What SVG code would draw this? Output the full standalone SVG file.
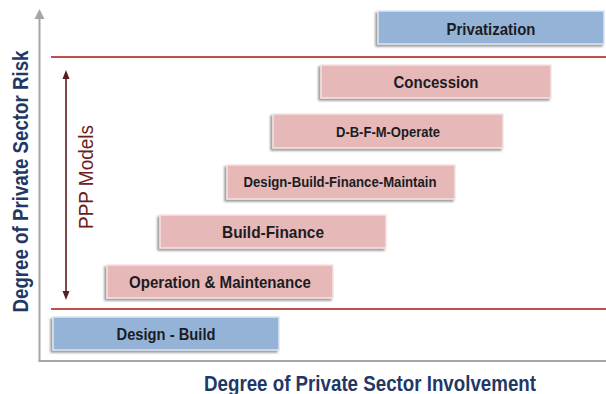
<svg xmlns="http://www.w3.org/2000/svg" width="606" height="394" viewBox="0 0 606 394">
  <style>
    .box { stroke-width: 1.5; filter: url(#sh); }
    .pink { fill: #e6b9b8; stroke: #f6e4e4; }
    .blue { fill: #95b3d7; stroke: #dbe6f2; }
    .lbl { font-family: "Liberation Sans", Arial, sans-serif; font-weight: bold; fill: #1c1c24; text-anchor: middle; }
    .axis-lbl { font-family: "Liberation Sans", Arial, sans-serif; font-weight: bold; fill: #1f3864; font-size: 21.5px; text-anchor: middle; }
    .ppp { font-family: "Liberation Sans", Arial, sans-serif; fill: #6b2020; font-size: 20px; text-anchor: middle; }
    .sep { stroke: #c0504d; stroke-width: 2; }
    .axis { stroke: #a6a6a6; stroke-width: 2; fill: none; }
  </style>
  <defs>
    <filter id="sh" x="-10%" y="-20%" width="120%" height="150%">
      <feDropShadow dx="-2" dy="2" stdDeviation="1" flood-color="#6e6e6e" flood-opacity="0.7"/>
    </filter>
  </defs>

  <rect width="606" height="394" fill="#ffffff"/>

  <g id="connectors">
    <line class="axis" x1="39.5" y1="361" x2="39.5" y2="14"/>
    <path d="M34.5,19 L39.5,9 L44.5,19 Z" fill="#a6a6a6"/>
    <line class="axis" x1="38.5" y1="361" x2="606" y2="361"/>
    <line class="sep" x1="51" y1="57" x2="606" y2="57"/>
    <line class="sep" x1="51" y1="309" x2="606" y2="309"/>
    <line x1="66" y1="76" x2="66" y2="294" stroke="#5a1e1e" stroke-width="1.6"/>
    <path d="M62.5,79 L66,70 L69.5,79 Z" fill="#5a1e1e"/>
    <path d="M62.5,291 L66,300 L69.5,291 Z" fill="#5a1e1e"/>
  </g>

  <text class="axis-lbl" transform="translate(27.5,181.5) rotate(-90)" textLength="262" lengthAdjust="spacingAndGlyphs">Degree of Private Sector Risk</text>
  <text class="axis-lbl" x="370" y="390.5" textLength="332" lengthAdjust="spacingAndGlyphs">Degree of Private Sector Involvement</text>
  <text class="ppp" transform="translate(92.5,177) rotate(-90)" textLength="104" lengthAdjust="spacingAndGlyphs">PPP Models</text>

  <g id="privatization">
    <rect class="box blue" x="378" y="11" width="226" height="33"/>
    <text class="lbl" x="491" y="35" font-size="17" textLength="89" lengthAdjust="spacingAndGlyphs">Privatization</text>
  </g>
  <g id="concession">
    <rect class="box pink" x="321" y="65" width="230" height="33"/>
    <text class="lbl" x="436" y="88" font-size="17" textLength="85" lengthAdjust="spacingAndGlyphs">Concession</text>
  </g>
  <g id="dbfmo">
    <rect class="box pink" x="273" y="114" width="230" height="34"/>
    <text class="lbl" x="388" y="137" font-size="15.5" textLength="104" lengthAdjust="spacingAndGlyphs">D-B-F-M-Operate</text>
  </g>
  <g id="dbfm">
    <rect class="box pink" x="227" y="165" width="228" height="34"/>
    <text class="lbl" x="340" y="187" font-size="15" textLength="193" lengthAdjust="spacingAndGlyphs">Design-Build-Finance-Maintain</text>
  </g>
  <g id="build-finance">
    <rect class="box pink" x="160" y="215" width="226" height="33"/>
    <text class="lbl" x="273" y="237.5" font-size="17" textLength="102" lengthAdjust="spacingAndGlyphs">Build-Finance</text>
  </g>
  <g id="om">
    <rect class="box pink" x="107" y="265" width="226" height="33"/>
    <text class="lbl" x="220" y="288" font-size="17" textLength="182" lengthAdjust="spacingAndGlyphs">Operation &amp; Maintenance</text>
  </g>
  <g id="design-build">
    <rect class="box blue" x="53" y="317" width="226" height="33"/>
    <text class="lbl" x="166" y="339.5" font-size="17" textLength="99" lengthAdjust="spacingAndGlyphs">Design - Build</text>
  </g>
</svg>
